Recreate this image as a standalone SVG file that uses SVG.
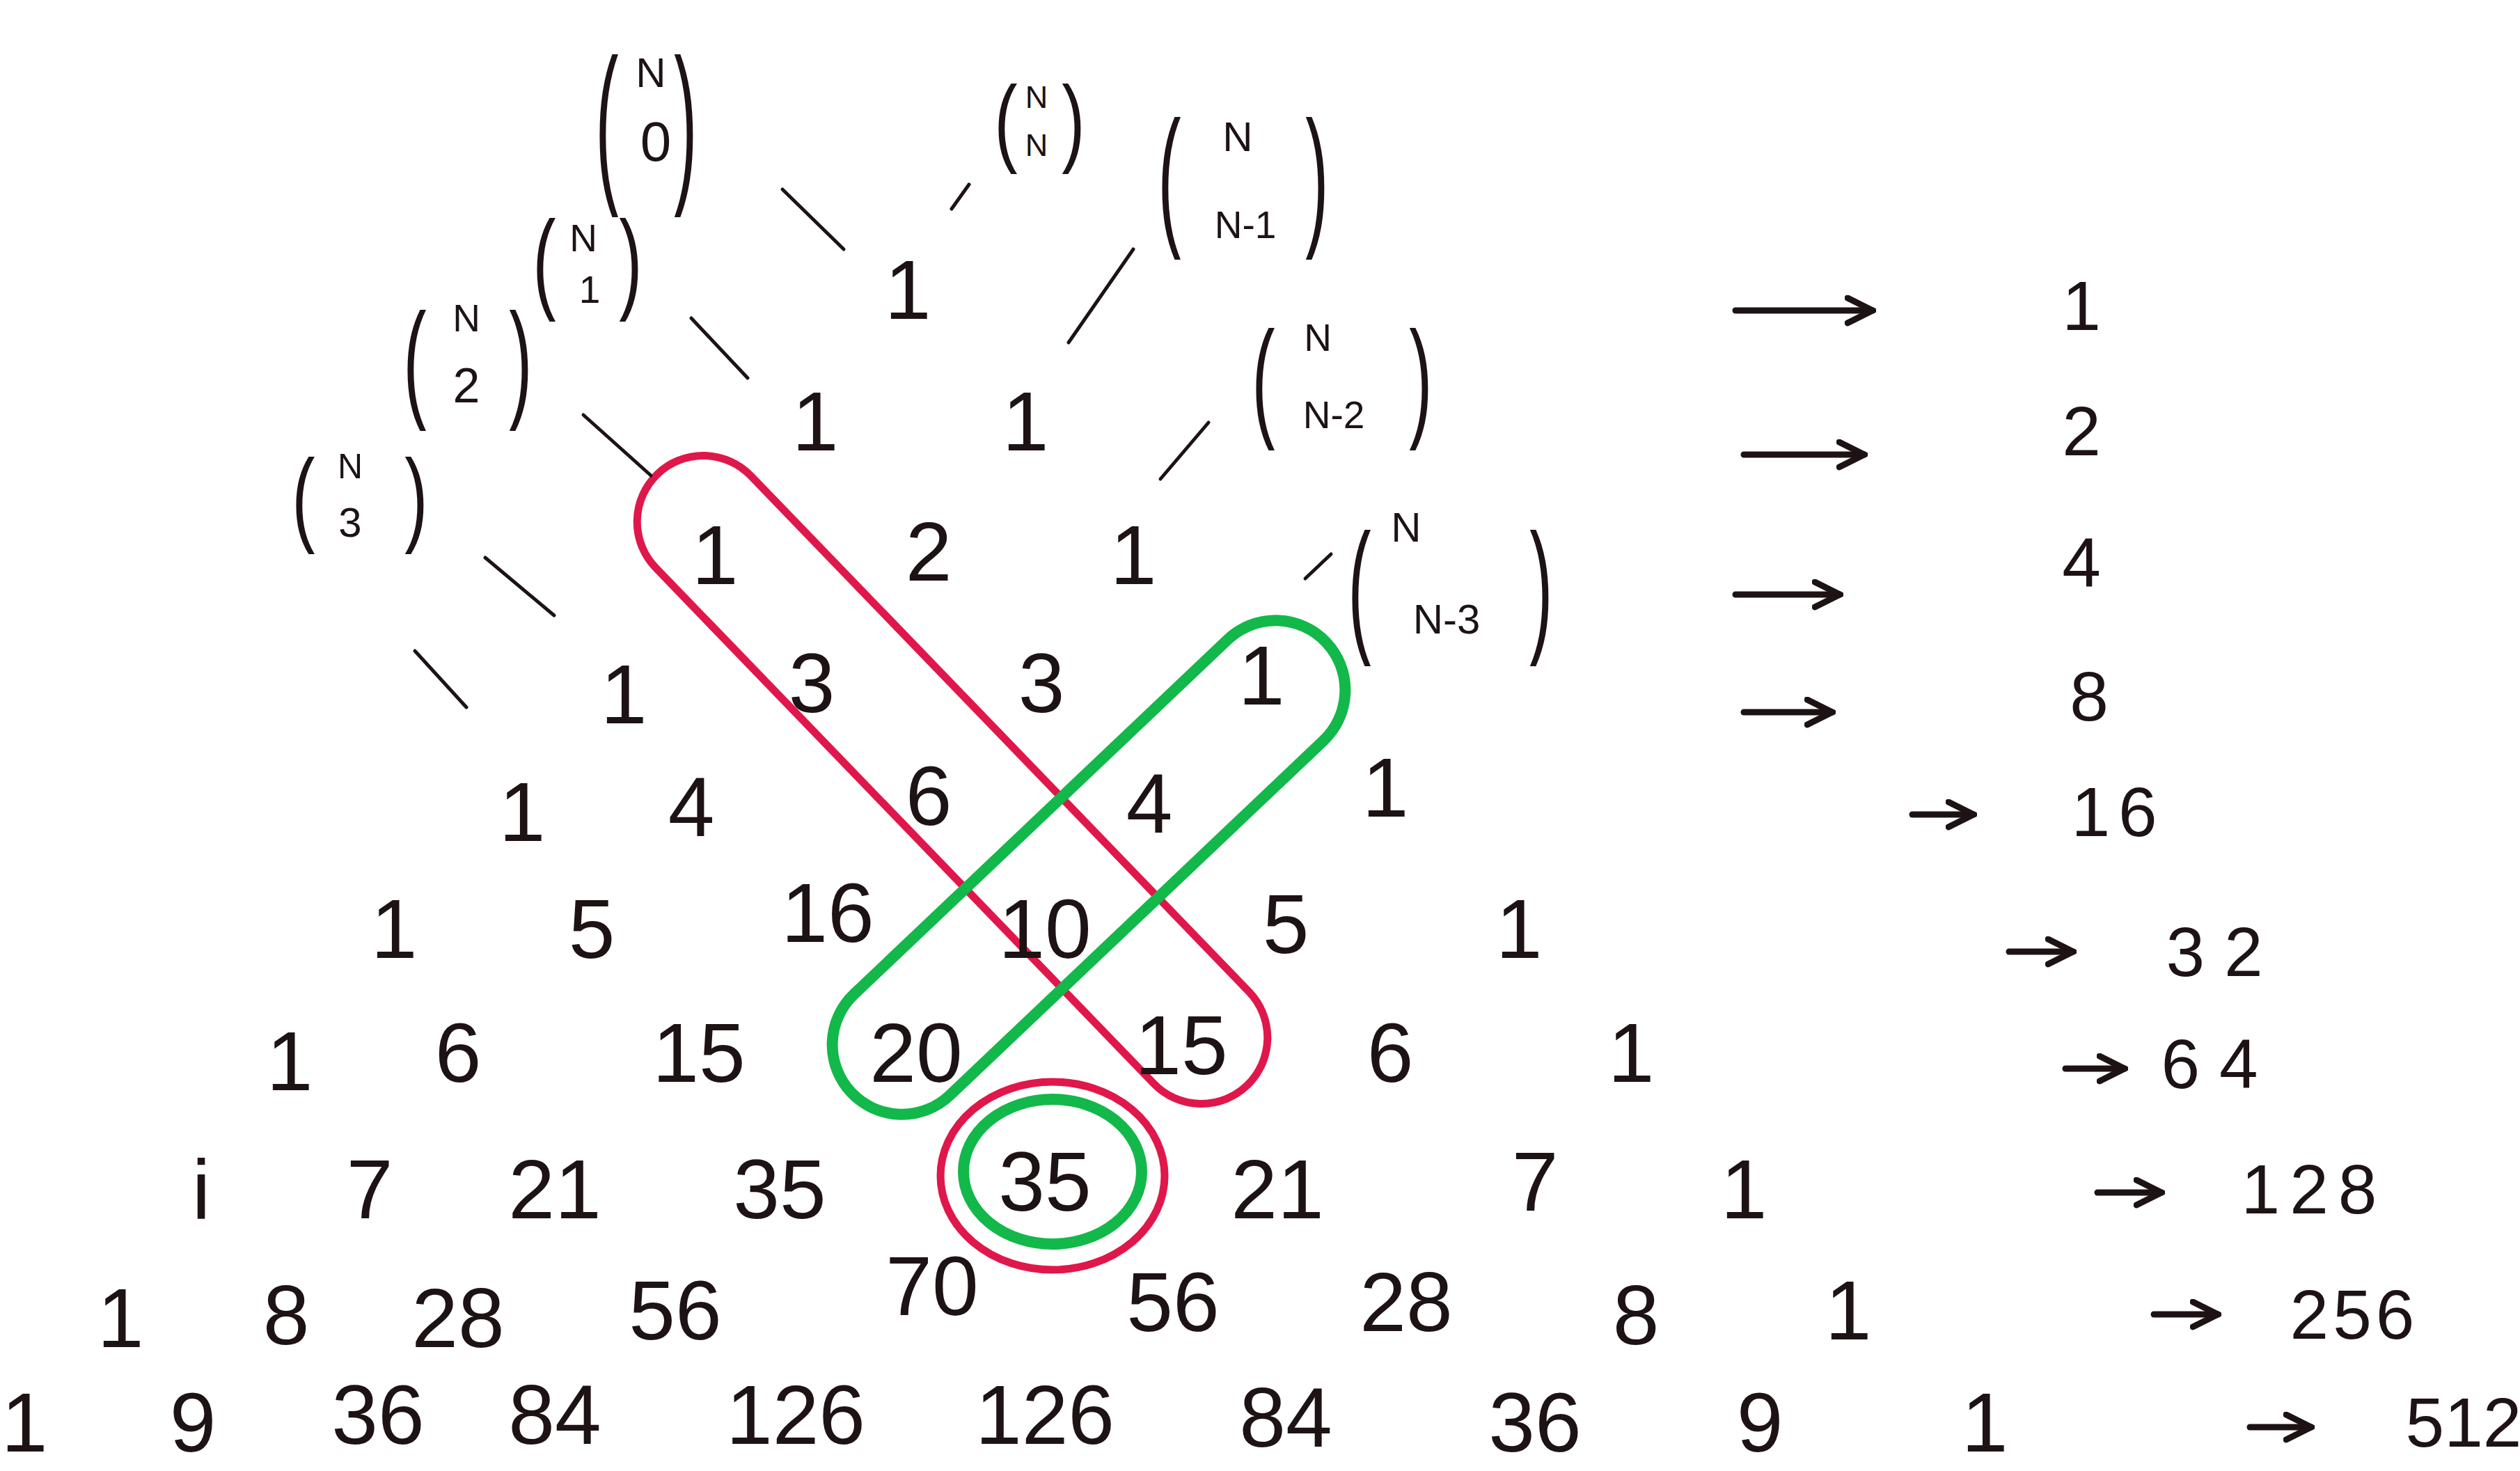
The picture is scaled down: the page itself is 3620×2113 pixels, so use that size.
<svg xmlns="http://www.w3.org/2000/svg" width="3620" height="2113" viewBox="0 0 3620 2113">
<style>
.n{font-family:"Liberation Sans",Arial,sans-serif;font-size:120px;fill:#1d1214;text-anchor:middle;dominant-baseline:central}
.s{font-size:100px}
.b{font-family:"Liberation Sans",Arial,sans-serif;fill:#1d1214;text-anchor:middle;dominant-baseline:central}
.p{font-family:"Liberation Sans",Arial,sans-serif;fill:#1d1214;text-anchor:middle;dominant-baseline:central;font-size:100px}
.d{stroke:#1d1214;stroke-width:5;stroke-linecap:round;fill:none}
.a{stroke:#1d1214;stroke-width:9;stroke-linecap:round;fill:none}
.red{fill:none;stroke:#e0174a;stroke-width:11}
.grn{fill:none;stroke:#12b84a;stroke-width:16}
</style>
<defs>
<marker id="ah" viewBox="0 0 10 10" refX="9" refY="5" markerWidth="5" markerHeight="5" orient="auto" markerUnits="strokeWidth">
<path d="M1,1 L9,5 L1,9" fill="none" stroke="#1d1214" stroke-width="2" stroke-linecap="round"/>
</marker>
</defs>
<rect width="3620" height="2113" fill="#ffffff"/>

<g id="loops">
<rect class="red" x="758" y="1025" width="1220" height="190" rx="95" transform="rotate(46 1368 1120)"/>
<rect class="grn" x="1094" y="1146" width="940" height="200" rx="100" transform="rotate(-43.5 1564 1246)"/>
<ellipse class="red" cx="1512" cy="1689" rx="161" ry="135"/>
<ellipse class="grn" cx="1512" cy="1683" rx="128" ry="104"/>
</g>

<g id="connectors">
<line class="d" x1="1124" y1="272" x2="1212" y2="358"/>
<line class="d" x1="1392" y1="265" x2="1367" y2="300"/>
<line class="d" x1="1628" y1="358" x2="1535" y2="492"/>
<line class="d" x1="993" y1="457" x2="1074" y2="543"/>
<line class="d" x1="838" y1="596" x2="935" y2="683"/>
<line class="d" x1="1736" y1="607" x2="1667" y2="688"/>
<line class="d" x1="697" y1="801" x2="796" y2="884"/>
<line class="d" x1="1912" y1="796" x2="1875" y2="831"/>
<line class="d" x1="596" y1="935" x2="670" y2="1016"/>
<line class="a" x1="2493" y1="446" x2="2690" y2="446" marker-end="url(#ah)"/>
<line class="a" x1="2505" y1="653" x2="2678" y2="653" marker-end="url(#ah)"/>
<line class="a" x1="2493" y1="854" x2="2643" y2="854" marker-end="url(#ah)"/>
<line class="a" x1="2505" y1="1023" x2="2632" y2="1023" marker-end="url(#ah)"/>
<line class="a" x1="2747" y1="1170" x2="2835" y2="1170" marker-end="url(#ah)"/>
<line class="a" x1="2886" y1="1367" x2="2978" y2="1367" marker-end="url(#ah)"/>
<line class="a" x1="2967" y1="1535" x2="3052" y2="1535" marker-end="url(#ah)"/>
<line class="a" x1="3013" y1="1713" x2="3105" y2="1713" marker-end="url(#ah)"/>
<line class="a" x1="3094" y1="1888" x2="3186" y2="1888" marker-end="url(#ah)"/>
<line class="a" x1="3232" y1="2050" x2="3320" y2="2050" marker-end="url(#ah)"/>
</g>

<g id="binom-n0">
<text class="p" transform="translate(872 173) scale(1 2.5)">(</text>
<text class="p" transform="translate(985 173) scale(1 2.5)">)</text>
<text class="b" x="935" y="104" font-size="60">N</text>
<text class="b" x="942" y="203" font-size="80">0</text>
</g>
<g id="binom-nn">
<text class="p" transform="translate(1445 173) scale(1 1.4)">(</text>
<text class="p" transform="translate(1542 173) scale(1 1.4)">)</text>
<text class="b" x="1489" y="139" font-size="45">N</text>
<text class="b" x="1489" y="208" font-size="45">N</text>
</g>
<g id="binom-nn1">
<text class="p" transform="translate(1680 250) scale(1 2.2)">(</text>
<text class="p" transform="translate(1892 250) scale(1 2.2)">)</text>
<text class="b" x="1778" y="196" font-size="60">N</text>
<text class="b" x="1789" y="323" font-size="55">N-1</text>
</g>
<g id="binom-n1">
<text class="p" transform="translate(782 373) scale(1 1.6)">(</text>
<text class="p" transform="translate(906 373) scale(1 1.6)">)</text>
<text class="b" x="838" y="342" font-size="55">N</text>
<text class="b" x="847" y="416" font-size="55">1</text>
</g>
<g id="binom-n2">
<text class="p" transform="translate(596 516) scale(1 1.85)">(</text>
<text class="p" transform="translate(748 516) scale(1 1.85)">)</text>
<text class="b" x="670" y="457" font-size="55">N</text>
<text class="b" x="670" y="554" font-size="70">2</text>
</g>
<g id="binom-nn2">
<text class="p" transform="translate(1815 542) scale(1 1.9)">(</text>
<text class="p" transform="translate(2041 542) scale(1 1.9)">)</text>
<text class="b" x="1893" y="485" font-size="55">N</text>
<text class="b" x="1916" y="596" font-size="55">N-2</text>
</g>
<g id="binom-n3">
<text class="p" transform="translate(436 713) scale(1 1.5)">(</text>
<text class="p" transform="translate(598 713) scale(1 1.5)">)</text>
<text class="b" x="503" y="670" font-size="50">N</text>
<text class="b" x="503" y="750" font-size="60">3</text>
</g>
<g id="binom-nn3">
<text class="p" transform="translate(1953 840) scale(1 2.1)">(</text>
<text class="p" transform="translate(2214 840) scale(1 2.1)">)</text>
<text class="b" x="2020" y="757" font-size="60">N</text>
<text class="b" x="2078" y="889" font-size="60">N-3</text>
</g>

<g id="row0"><text class="n" x="1304" y="416">1</text></g>
<g id="row1"><text class="n" x="1171" y="605">1</text><text class="n" x="1473" y="605">1</text></g>
<g id="row2"><text class="n" x="1027" y="797">1</text><text class="n" x="1334" y="792">2</text><text class="n" x="1628" y="797">1</text></g>
<g id="row3"><text class="n" x="896" y="997">1</text><text class="n" x="1166" y="981">3</text><text class="n" x="1496" y="981">3</text><text class="n" x="1812" y="970">1</text></g>
<g id="row4"><text class="n" x="750" y="1166">1</text><text class="n" x="993" y="1159">4</text><text class="n" x="1334" y="1143">6</text><text class="n" x="1651" y="1154">4</text><text class="n" x="1990" y="1131">1</text></g>
<g id="row5"><text class="n" x="566" y="1334">1</text><text class="n" x="850" y="1334">5</text><text class="n" x="1189" y="1311">16</text><text class="n" x="1501" y="1334">10</text><text class="n" x="1847" y="1327">5</text><text class="n" x="2182" y="1334">1</text></g>
<g id="row6"><text class="n" x="416" y="1524">1</text><text class="n" x="658" y="1512">6</text><text class="n" x="1004" y="1512">15</text><text class="n" x="1316" y="1512">20</text><text class="n" x="1697" y="1501">15</text><text class="n" x="1997" y="1512">6</text><text class="n" x="2343" y="1512">1</text></g>
<g id="row7"><text class="n" x="289" y="1708">i</text><text class="n" x="531" y="1708">7</text><text class="n" x="797" y="1708">21</text><text class="n" x="1120" y="1708">35</text><text class="n" x="1501" y="1697">35</text><text class="n" x="1835" y="1708">21</text><text class="n" x="2205" y="1697">7</text><text class="n" x="2505" y="1708">1</text></g>
<g id="row8"><text class="n" x="173" y="1893">1</text><text class="n" x="411" y="1889">8</text><text class="n" x="658" y="1893">28</text><text class="n" x="970" y="1882">56</text><text class="n" x="1339" y="1847">70</text><text class="n" x="1685" y="1870">56</text><text class="n" x="2020" y="1870">28</text><text class="n" x="2350" y="1889">8</text><text class="n" x="2655" y="1882">1</text></g>
<g id="row9"><text class="n" x="35" y="2043">1</text><text class="n" x="277" y="2043">9</text><text class="n" x="543" y="2032">36</text><text class="n" x="797" y="2032">84</text><text class="n" x="1143" y="2032">126</text><text class="n" x="1501" y="2032">126</text><text class="n" x="1847" y="2036">84</text><text class="n" x="2205" y="2043">36</text><text class="n" x="2528" y="2043">9</text><text class="n" x="2851" y="2043">1</text></g>

<g id="sums">
<text class="n s" x="2990" y="439">1</text>
<text class="n s" x="2990" y="619">2</text>
<text class="n s" x="2990" y="808">4</text>
<text class="n s" x="3001" y="1000">8</text>
<text class="n s" x="3043" y="1166" letter-spacing="12">16</text>
<text class="n s" x="3181" y="1367">3 2</text>
<text class="n s" x="3174" y="1528">6 4</text>
<text class="n s" x="3324" y="1708" letter-spacing="14">128</text>
<text class="n s" x="3382" y="1888" letter-spacing="6">256</text>
<text class="n s" x="3539" y="2043">512</text>
</g>
</svg>
